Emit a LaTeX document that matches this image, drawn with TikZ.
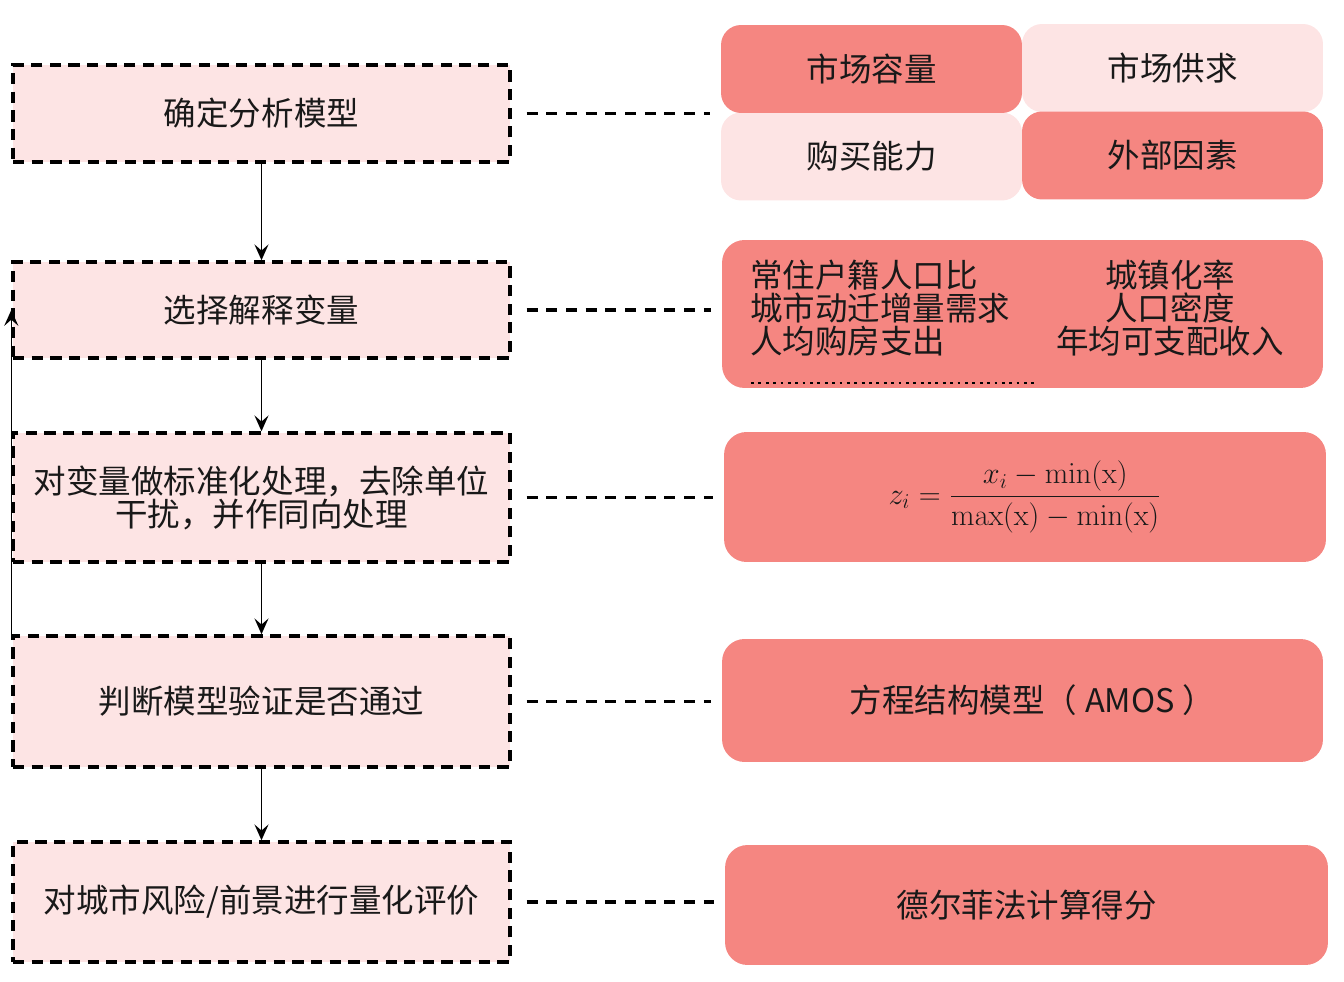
\documentclass[tikz,border=0pt]{standalone}
\usepackage[no-math]{fontspec}
\usepackage{amsmath}
\setmainfont{Noto Sans CJK SC}
\usetikzlibrary{arrows.meta}

\definecolor{salmon}{RGB}{245,134,129}
\definecolor{blush}{RGB}{253,228,228}
\definecolor{ink}{RGB}{25,25,25}

\begin{document}
\begin{tikzpicture}[x=0.02cm,y=-0.02cm,
  font=\fontsize{18.5}{18.8}\selectfont, text=ink,
  stepbox/.style={draw=black, line width=2pt, dash pattern=on 6.4pt off 4.2pt,
    fill=blush, minimum width=9.94cm, inner sep=0pt, align=center},
  tagbox/.style={rounded corners=0.4cm, minimum width=6.02cm,
    minimum height=1.76cm, inner sep=0pt},
  infobox/.style={fill=salmon, rounded corners=0.45cm, minimum width=12.02cm,
    inner sep=0pt},
  flow/.style={-{Stealth[length=9pt,width=8pt,inset=3.5pt]}, line width=0.9pt},
  link/.style={line width=2pt, dash pattern=on 6.2pt off 5pt,
    shorten <=0.3cm, shorten >=0.22cm}]

 \useasboundingbox (0,0) rectangle (1344,982);

% steps on the left
 \node[stepbox, minimum height=1.94cm] (model) at (261.5,113.5) {确定分析模型};
 \node[stepbox, minimum height=1.92cm] (vars) at (261.5,310) {选择解释变量};
 \node[stepbox, minimum height=2.58cm] (norm) at (261.5,497.5)
   {对变量做标准化处理，去除单位\\干扰，并作同向处理};
 \node[stepbox, minimum height=2.62cm] (check) at (261.5,701.5) {判断模型验证是否通过};
 \node[stepbox, minimum height=2.4cm] (score) at (261.5,902) {对城市风险/前景进行量化评价};

 \draw[flow] (model) -- (vars);
 \draw[flow] (vars) -- (norm);
 \draw[flow] (norm) -- (check);
 \draw[flow] (check) -- (score);
 \draw[flow] (check.north west) -- (vars.west); % back when the check fails

% the four factors (light ones first, dark ones on top)
 \node[tagbox, fill=blush] (supply) at (1172.5,68) {市场供求};
 \node[tagbox, fill=blush] (power) at (871.5,156.5) {购买能力};
 \node[tagbox, fill=salmon] (capacity) at (871.5,69) {市场容量};
 \node[tagbox, fill=salmon] (outside) at (1172.5,155.5) {外部因素};

% explanatory variables
 \node[infobox, minimum height=2.96cm] (factors) at (1022.5,314) {};
 \node[anchor=west, align=left, inner sep=0pt] (factl) at (750,308)
   {常住户籍人口比\\城市动迁增量需求\\人均购房支出};
 \node[align=center, inner sep=0pt] (factr) at (1170,308)
   {城镇化率\\人口密度\\年均可支配收入};
 \draw[line width=1.6pt, dash pattern=on 1.6pt off 2.6pt] (751,383) -- (1038,383);

% min-max formula
 \node[infobox, minimum height=2.6cm, minimum width=12.04cm] (zscore) at (1025,497)
   {\fontsize{16.5}{20}\selectfont
    $z_i=\dfrac{x_i-\min(\mathrm{x})}{\max(\mathrm{x})-\min(\mathrm{x})}$\hspace{0.5cm}};

 \node[infobox, minimum height=2.46cm] (sem) at (1022.5,700.5)
   {\hspace{0.4cm}方程结构模型（\hspace{0.25em}AMOS\hspace{0.25em}）};
 \node[infobox, minimum height=2.4cm, minimum width=12.06cm] (delphi) at (1026.5,905)
   {德尔菲法计算得分};

% dashed links to the right
 \draw[link] (model.east) -- (model.east -| capacity.west);
 \draw[link] (vars.east) -- (vars.east -| factors.west);
 \draw[link] (norm.east) -- (norm.east -| zscore.west);
 \draw[link] (check.east) -- (check.east -| sem.west);
 \draw[link] (score.east) -- (score.east -| delphi.west);

\end{tikzpicture}
\end{document}
